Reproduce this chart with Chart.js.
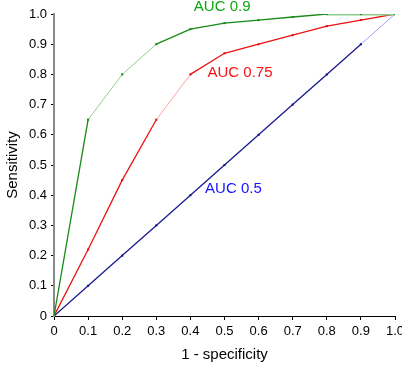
<!DOCTYPE html>
<html>
<head>
<meta charset="utf-8">
<script src="https://cdn.jsdelivr.net/npm/chart.js@4/dist/chart.umd.min.js"></script>
<style>
  html, body { margin: 0; padding: 0; background: #fff; }
  #wrap { width: 402px; height: 365px; }
</style>
</head>
<body>
<div id="wrap"><canvas id="roc"></canvas></div>
<script>
const fpr = [0, 0.1, 0.2, 0.3, 0.4, 0.5, 0.6, 0.7, 0.8, 0.9, 1.0];
const tpr90 = [0, 0.65, 0.8, 0.9, 0.95, 0.97, 0.98, 0.99, 1.0, 1.0, 1.0];
const tpr75 = [0, 0.22, 0.45, 0.65, 0.8, 0.87, 0.9, 0.93, 0.96, 0.98, 1.0];
const tpr50 = [0, 0.1, 0.2, 0.3, 0.4, 0.5, 0.6, 0.7, 0.8, 0.9, 1.0];
const seriesNames = ['AUC 0.9', 'AUC 0.75', 'AUC 0.5'];
// where each series label sits, in data units (left edge, vertical middle)
const labelX = [0.41, 0.45, 0.443];
const labelY = [1.022, 0.806, 0.42];

const font = 'Liberation Sans, Arial, Helvetica, sans-serif';

function pts(ys) { return fpr.map((x, i) => ({ x, y: ys[i] })); }

// some segments of each curve are drawn faint and thin in the original
function seg(dark, light, lightIdx, wideIdx, wideColor) {
  return {
    borderColor: c => wideIdx.includes(c.p0DataIndex) ? wideColor : lightIdx.includes(c.p0DataIndex) ? light : dark,
    borderWidth: c => wideIdx.includes(c.p0DataIndex) ? 3 : lightIdx.includes(c.p0DataIndex) ? 1 : 1.3,
  };
}

const curveLabels = {
  id: 'curveLabels',
  afterDatasetsDraw(chart) {
    const { ctx, scales: { x, y } } = chart;
    ctx.save();
    ctx.font = '15px ' + font;
    ctx.textBaseline = 'middle';
    ctx.textAlign = 'left';
    chart.data.datasets.forEach((ds, i) => {
      ctx.fillStyle = ds.textColor;
      ctx.fillText(seriesNames[i], x.getPixelForValue(labelX[i]), y.getPixelForValue(labelY[i]));
    });
    ctx.restore();
  }
};

new Chart(document.getElementById('roc'), {
  type: 'line',
  data: {
    datasets: [
      {
        label: seriesNames[0], data: pts(tpr90), textColor: '#0fa50f',
        borderColor: '#178a17', backgroundColor: '#178a17', pointBorderColor: '#178a17',
        segment: seg('#178a17', '#8fd08f', [1, 2], [8, 9], '#8ccc8c'),
      },
      {
        label: seriesNames[1], data: pts(tpr75), textColor: '#ff1010',
        borderColor: '#ee1111', backgroundColor: '#ee1111', pointBorderColor: '#ee1111',
        segment: seg('#ee1111', '#ffa0a0', [3], [], ''),
      },
      {
        label: seriesNames[2], data: pts(tpr50), textColor: '#1414ff',
        borderColor: '#1a1a8c', backgroundColor: '#1a1a8c', pointBorderColor: '#1a1a8c',
        segment: seg('#1a1a8c', '#a0a0ff', [9], [], ''),
      },
    ],
  },
  options: {
    responsive: true, maintainAspectRatio: false, animation: false,
    layout: { padding: { top: 14, right: 7, left: 0, bottom: 0 } },
    elements: {
      line: { tension: 0, borderWidth: 1.3 },
      point: { pointStyle: 'rect', radius: 1.5, borderWidth: 0 },
    },
    plugins: { legend: { display: false }, tooltip: { enabled: false } },
    scales: {
      x: {
        type: 'linear', min: 0, max: 1,
        afterFit: s => { s.height = 49; s.paddingLeft = 0; s.paddingRight = 0; },
        grid: { drawOnChartArea: false, tickLength: 4, color: '#000' },
        border: { color: '#000', width: 1 },
        ticks: {
          stepSize: 0.1, padding: 4, color: '#000', font: { family: font, size: 13 },
          callback: v => v === 0 ? '0' : v.toFixed(1),
        },
        title: { display: true, text: '1 - specificity', color: '#000', font: { family: font, size: 15 }, padding: { top: 8, bottom: 1 } },
      },
      y: {
        type: 'linear', min: 0, max: 1,
        afterFit: s => { s.width = 54; s.paddingTop = 0; s.paddingBottom = 0; },
        grid: { drawOnChartArea: false, tickLength: 3, color: '#000' },
        border: { color: '#888', width: 2 },
        ticks: {
          stepSize: 0.1, padding: 4, color: '#000', font: { family: font, size: 13 },
          callback: v => v === 0 ? '0' : v.toFixed(1),
        },
        title: { display: true, text: 'Sensitivity', color: '#000', font: { family: font, size: 15 }, padding: { bottom: 0 } },
      },
    },
  },
  plugins: [curveLabels],
});
</script>
</body>
</html>
